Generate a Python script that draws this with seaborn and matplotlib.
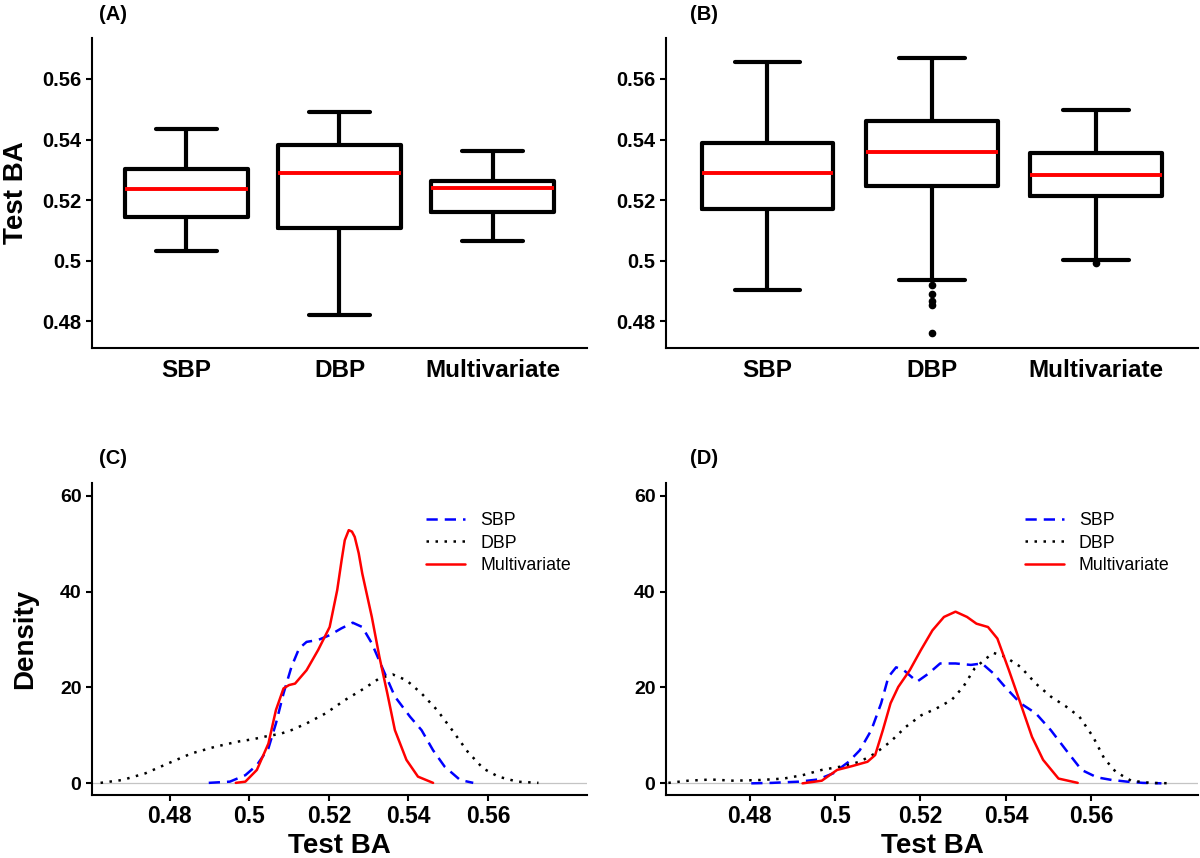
import numpy as np
import pandas as pd
import matplotlib
matplotlib.use("Agg")
import matplotlib.pyplot as plt
import seaborn as sns

# ---------------- data ----------------
categories = ["SBP", "DBP", "Multivariate"]

# Panel A box statistics (Test BA)
a_low = [0.5033, 0.4821, 0.5065]
a_q1 = [0.5143, 0.5108, 0.5162]
a_med = [0.5237, 0.5290, 0.5239]
a_q3 = [0.5302, 0.5382, 0.5263]
a_high = [0.5434, 0.5490, 0.5361]

# Panel B box statistics
b_low = [0.4905, 0.4935, 0.5002]
b_q1 = [0.5170, 0.5245, 0.5212]
b_med = [0.5288, 0.5358, 0.5283]
b_q3 = [0.5388, 0.5462, 0.5356]
b_high = [0.5656, 0.5669, 0.5497]
b_out_sbp = []
b_out_dbp = [0.4920, 0.4890, 0.4866, 0.4853, 0.4763]
b_out_multi = [0.4993]

# Panel C densities
c_sbp_x = [0.4898, 0.4951, 0.4990, 0.5019, 0.5048, 0.5067, 0.5086, 0.5106, 0.5125, 0.5144,
           0.5173, 0.5202, 0.5231, 0.5260, 0.5284, 0.5308, 0.5337, 0.5366, 0.5404, 0.5433,
           0.5462, 0.5491, 0.5530, 0.5563]
c_sbp_y = [0.1, 0.35, 1.7, 3.8, 7.3, 12.5, 18.75, 24.3, 28.1, 29.5,
           29.9, 30.9, 32.3, 33.5, 32.6, 29.2, 23.6, 18.1, 13.9, 11.1,
           6.9, 3.5, 0.7, 0.1]
c_dbp_x = [0.4626, 0.4681, 0.4739, 0.4797, 0.4855, 0.4913, 0.4971, 0.5009, 0.5048, 0.5077,
           0.5106, 0.5144, 0.5192, 0.5241, 0.5289, 0.5327, 0.5361, 0.5395, 0.5433, 0.5472,
           0.5510, 0.5549, 0.5588, 0.5626, 0.5674, 0.5727]
c_dbp_y = [0.1, 0.7, 2.1, 4.2, 6.25, 7.6, 8.7, 9.2, 9.9, 10.3,
           11.1, 12.5, 14.6, 17.4, 19.8, 21.9, 22.7, 21.5, 18.75, 15.3,
           11.1, 6.6, 3.1, 1.4, 0.35, 0.1]
c_mul_x = [0.4966, 0.4990, 0.5019, 0.5048, 0.5067, 0.5086, 0.5100, 0.5115, 0.5144, 0.5173,
           0.5202, 0.5221, 0.5232, 0.5240, 0.5250, 0.5258, 0.5265, 0.5275, 0.5284, 0.5308,
           0.5327, 0.5347, 0.5366, 0.5395, 0.5424, 0.5462]
c_mul_y = [0.1, 0.35, 2.8, 8.3, 15.3, 19.8, 20.5, 20.8, 23.6, 27.8,
           32.6, 40.3, 46.5, 50.7, 52.8, 52.5, 51.4, 48.0, 43.75, 34.7,
           26.4, 18.75, 11.1, 4.9, 1.4, 0.1]

# Panel D densities
d_sbp_x = [0.4804, 0.4853, 0.4915, 0.4960, 0.4996, 0.5032, 0.5058, 0.5085, 0.5108, 0.5125,
           0.5143, 0.5161, 0.5192, 0.5219, 0.5246, 0.5282, 0.5318, 0.5344, 0.5371, 0.5398,
           0.5434, 0.5470, 0.5505, 0.5541, 0.5577, 0.5613, 0.5648, 0.5684, 0.5720, 0.5764]
d_sbp_y = [0.0, 0.1, 0.35, 0.8, 2.1, 4.5, 6.9, 11.1, 16.7, 22.2,
           24.2, 23.6, 21.2, 22.9, 25.0, 25.0, 24.7, 25.0, 22.9, 20.1,
           16.7, 14.6, 11.1, 6.9, 2.8, 1.25, 0.7, 0.35, 0.1, 0.0]
d_dbp_x = [0.4610, 0.4656, 0.4710, 0.4763, 0.4826, 0.4880, 0.4924, 0.4969, 0.5014, 0.5058,
           0.5094, 0.5130, 0.5166, 0.5202, 0.5237, 0.5273, 0.5300, 0.5327, 0.5353, 0.5371,
           0.5398, 0.5434, 0.5470, 0.5505, 0.5541, 0.5572, 0.5604, 0.5630, 0.5657, 0.5693,
           0.5738, 0.5791]
d_dbp_y = [0.1, 0.55, 0.8, 0.55, 0.7, 1.0, 1.7, 2.8, 3.5, 4.5,
           6.25, 8.7, 11.8, 14.2, 15.6, 17.4, 20.1, 24.0, 26.0, 27.2,
           26.4, 24.3, 20.8, 18.1, 16.0, 13.9, 9.7, 5.2, 2.4, 0.55,
           0.1, 0.0]
d_mul_x = [0.4924, 0.4969, 0.5005, 0.5040, 0.5076, 0.5094, 0.5112, 0.5130, 0.5148, 0.5175,
           0.5201, 0.5228, 0.5255, 0.5282, 0.5309, 0.5331, 0.5358, 0.5380, 0.5407, 0.5434,
           0.5461, 0.5487, 0.5523, 0.5568]
d_mul_y = [0.0, 0.55, 2.8, 3.6, 4.5, 5.9, 11.1, 16.7, 20.1, 23.6,
           27.8, 31.9, 34.7, 35.8, 34.7, 33.3, 32.6, 30.2, 23.6, 16.7,
           9.7, 4.9, 1.0, 0.1]

# ---------------- style ----------------
sns.set_theme(style="ticks")
plt.rcParams["font.family"] = ["Liberation Sans", "DejaVu Sans"]
plt.rcParams["axes.linewidth"] = 1.4
plt.rcParams["text.color"] = "black"
plt.rcParams["axes.labelcolor"] = "black"
plt.rcParams["xtick.color"] = "black"
plt.rcParams["ytick.color"] = "black"

fig = plt.figure(figsize=(12, 8.58), dpi=100)
W, H = 1200, 858


def axes_px(x0, x1, y0, y1):
    return fig.add_axes([x0 / W, 1 - y1 / H, (x1 - x0) / W, (y1 - y0) / H])


axA = axes_px(91.8, 587.4, 37.7, 347.7)
axB = axes_px(665.8, 1198.2, 37.7, 347.7)
axC = axes_px(91.8, 587.4, 483.3, 795.0)
axD = axes_px(665.8, 1198.2, 483.3, 795.0)


def style_axes(ax):
    for s in ["top", "right"]:
        ax.spines[s].set_visible(False)
    for s in ["left", "bottom"]:
        ax.spines[s].set_linewidth(1.5)
        ax.spines[s].set_color("black")
    ax.tick_params(axis="both", colors="black", labelcolor="black",
                   width=1.5, length=4, pad=3.5)
    ax.grid(False)


def box_panel(ax, low, q1, med, q3, high, fliers, ylabel):
    stats = []
    for i, name in enumerate(categories):
        stats.append(dict(label=name, whislo=low[i], q1=q1[i], med=med[i],
                          q3=q3[i], whishi=high[i], fliers=fliers[i]))
    ax.bxp(stats, positions=[1, 2, 3], widths=0.8, capwidths=0.4,
           patch_artist=False, showfliers=True,
           boxprops=dict(color="black", linewidth=3.0),
           whiskerprops=dict(color="black", linewidth=3.0),
           capprops=dict(color="black", linewidth=3.0),
           medianprops=dict(color="#ff0000", linewidth=2.8),
           flierprops=dict(marker="o", markerfacecolor="black",
                           markeredgecolor="black", markersize=4.5))
    ax.set_xlim(0.382, 3.62)
    ax.set_ylim(0.4713, 0.5736)
    ax.set_yticks([0.48, 0.50, 0.52, 0.54, 0.56])
    ax.set_yticklabels(["0.48", "0.5", "0.52", "0.54", "0.56"])
    ax.set_xticks([1, 2, 3])
    ax.set_xticklabels(categories)
    style_axes(ax)
    ax.tick_params(axis="x", length=0, pad=8, labelsize=17.5)
    ax.tick_params(axis="y", labelsize=14.5)
    for t in ax.get_xticklabels() + ax.get_yticklabels():
        t.set_fontweight("bold")
    ax.set_xlabel("")
    if ylabel:
        ax.set_ylabel(ylabel, fontsize=20, fontweight="bold", color="black")
        ax.yaxis.set_label_coords(-0.127, 0.5)
    else:
        ax.set_ylabel("")


box_panel(axA, a_low, a_q1, a_med, a_q3, a_high, [[], [], []], "Test BA")
box_panel(axB, b_low, b_q1, b_med, b_q3, b_high,
          [b_out_sbp, b_out_dbp, b_out_multi], None)


def density_frame(sx, sy, dx, dy, mx, my):
    parts = []
    for name, xs, ys in [("SBP", sx, sy), ("DBP", dx, dy), ("Multivariate", mx, my)]:
        parts.append(pd.DataFrame({"Test BA": xs, "Density": ys, "Model": name}))
    return pd.concat(parts, ignore_index=True)


palette = {"SBP": "#0000ff", "DBP": "black", "Multivariate": "#ff0000"}
dashes = {"SBP": (4.5, 2.8), "DBP": (1, 2.6), "Multivariate": ""}


def density_panel(ax, df, ylabel):
    ax.axhline(0, color="#c4c4c4", lw=0.9, zorder=0)
    sns.lineplot(data=df, x="Test BA", y="Density", hue="Model", style="Model",
                 hue_order=categories, style_order=categories,
                 palette=palette, dashes=dashes, sort=False, estimator=None,
                 linewidth=1.8, ax=ax)
    ax.set_xlim(0.4604, 0.5850)
    ax.set_ylim(-2.43, 62.57)
    ax.set_xticks([0.48, 0.50, 0.52, 0.54, 0.56])
    ax.set_xticklabels(["0.48", "0.5", "0.52", "0.54", "0.56"])
    ax.set_yticks([0, 20, 40, 60])
    style_axes(ax)
    ax.tick_params(axis="x", labelsize=16.5, pad=3)
    ax.tick_params(axis="y", labelsize=14)
    for t in ax.get_xticklabels() + ax.get_yticklabels():
        t.set_fontweight("bold")
    ax.set_xlabel("Test BA", fontsize=20, fontweight="bold", color="black")
    ax.xaxis.set_label_coords(0.5, -0.122)
    if ylabel:
        ax.set_ylabel(ylabel, fontsize=20, fontweight="bold", color="black")
        ax.yaxis.set_label_coords(-0.108, 0.5)
    else:
        ax.set_ylabel("")
    sns.move_legend(ax, "upper left", bbox_to_anchor=(0.674, 0.907),
                    frameon=False, title=None, fontsize=12.8,
                    handlelength=2.2, handletextpad=0.85, labelspacing=0.3,
                    borderaxespad=0, borderpad=0)
    for t in ax.get_legend().get_texts():
        t.set_color("black")


density_panel(axC, density_frame(c_sbp_x, c_sbp_y, c_dbp_x, c_dbp_y, c_mul_x, c_mul_y), "Density")
density_panel(axD, density_frame(d_sbp_x, d_sbp_y, d_dbp_x, d_dbp_y, d_mul_x, d_mul_y), None)

# panel letters
for lab, x, y in [("(A)", 98.5, 14.0), ("(B)", 690.0, 14.0),
                  ("(C)", 98.5, 458.3), ("(D)", 690.0, 458.3)]:
    fig.text(x / W, 1 - y / H, lab, ha="left", va="center",
             fontsize=14.5, fontweight="bold", color="black")

fig.savefig("out.png", dpi=100)
